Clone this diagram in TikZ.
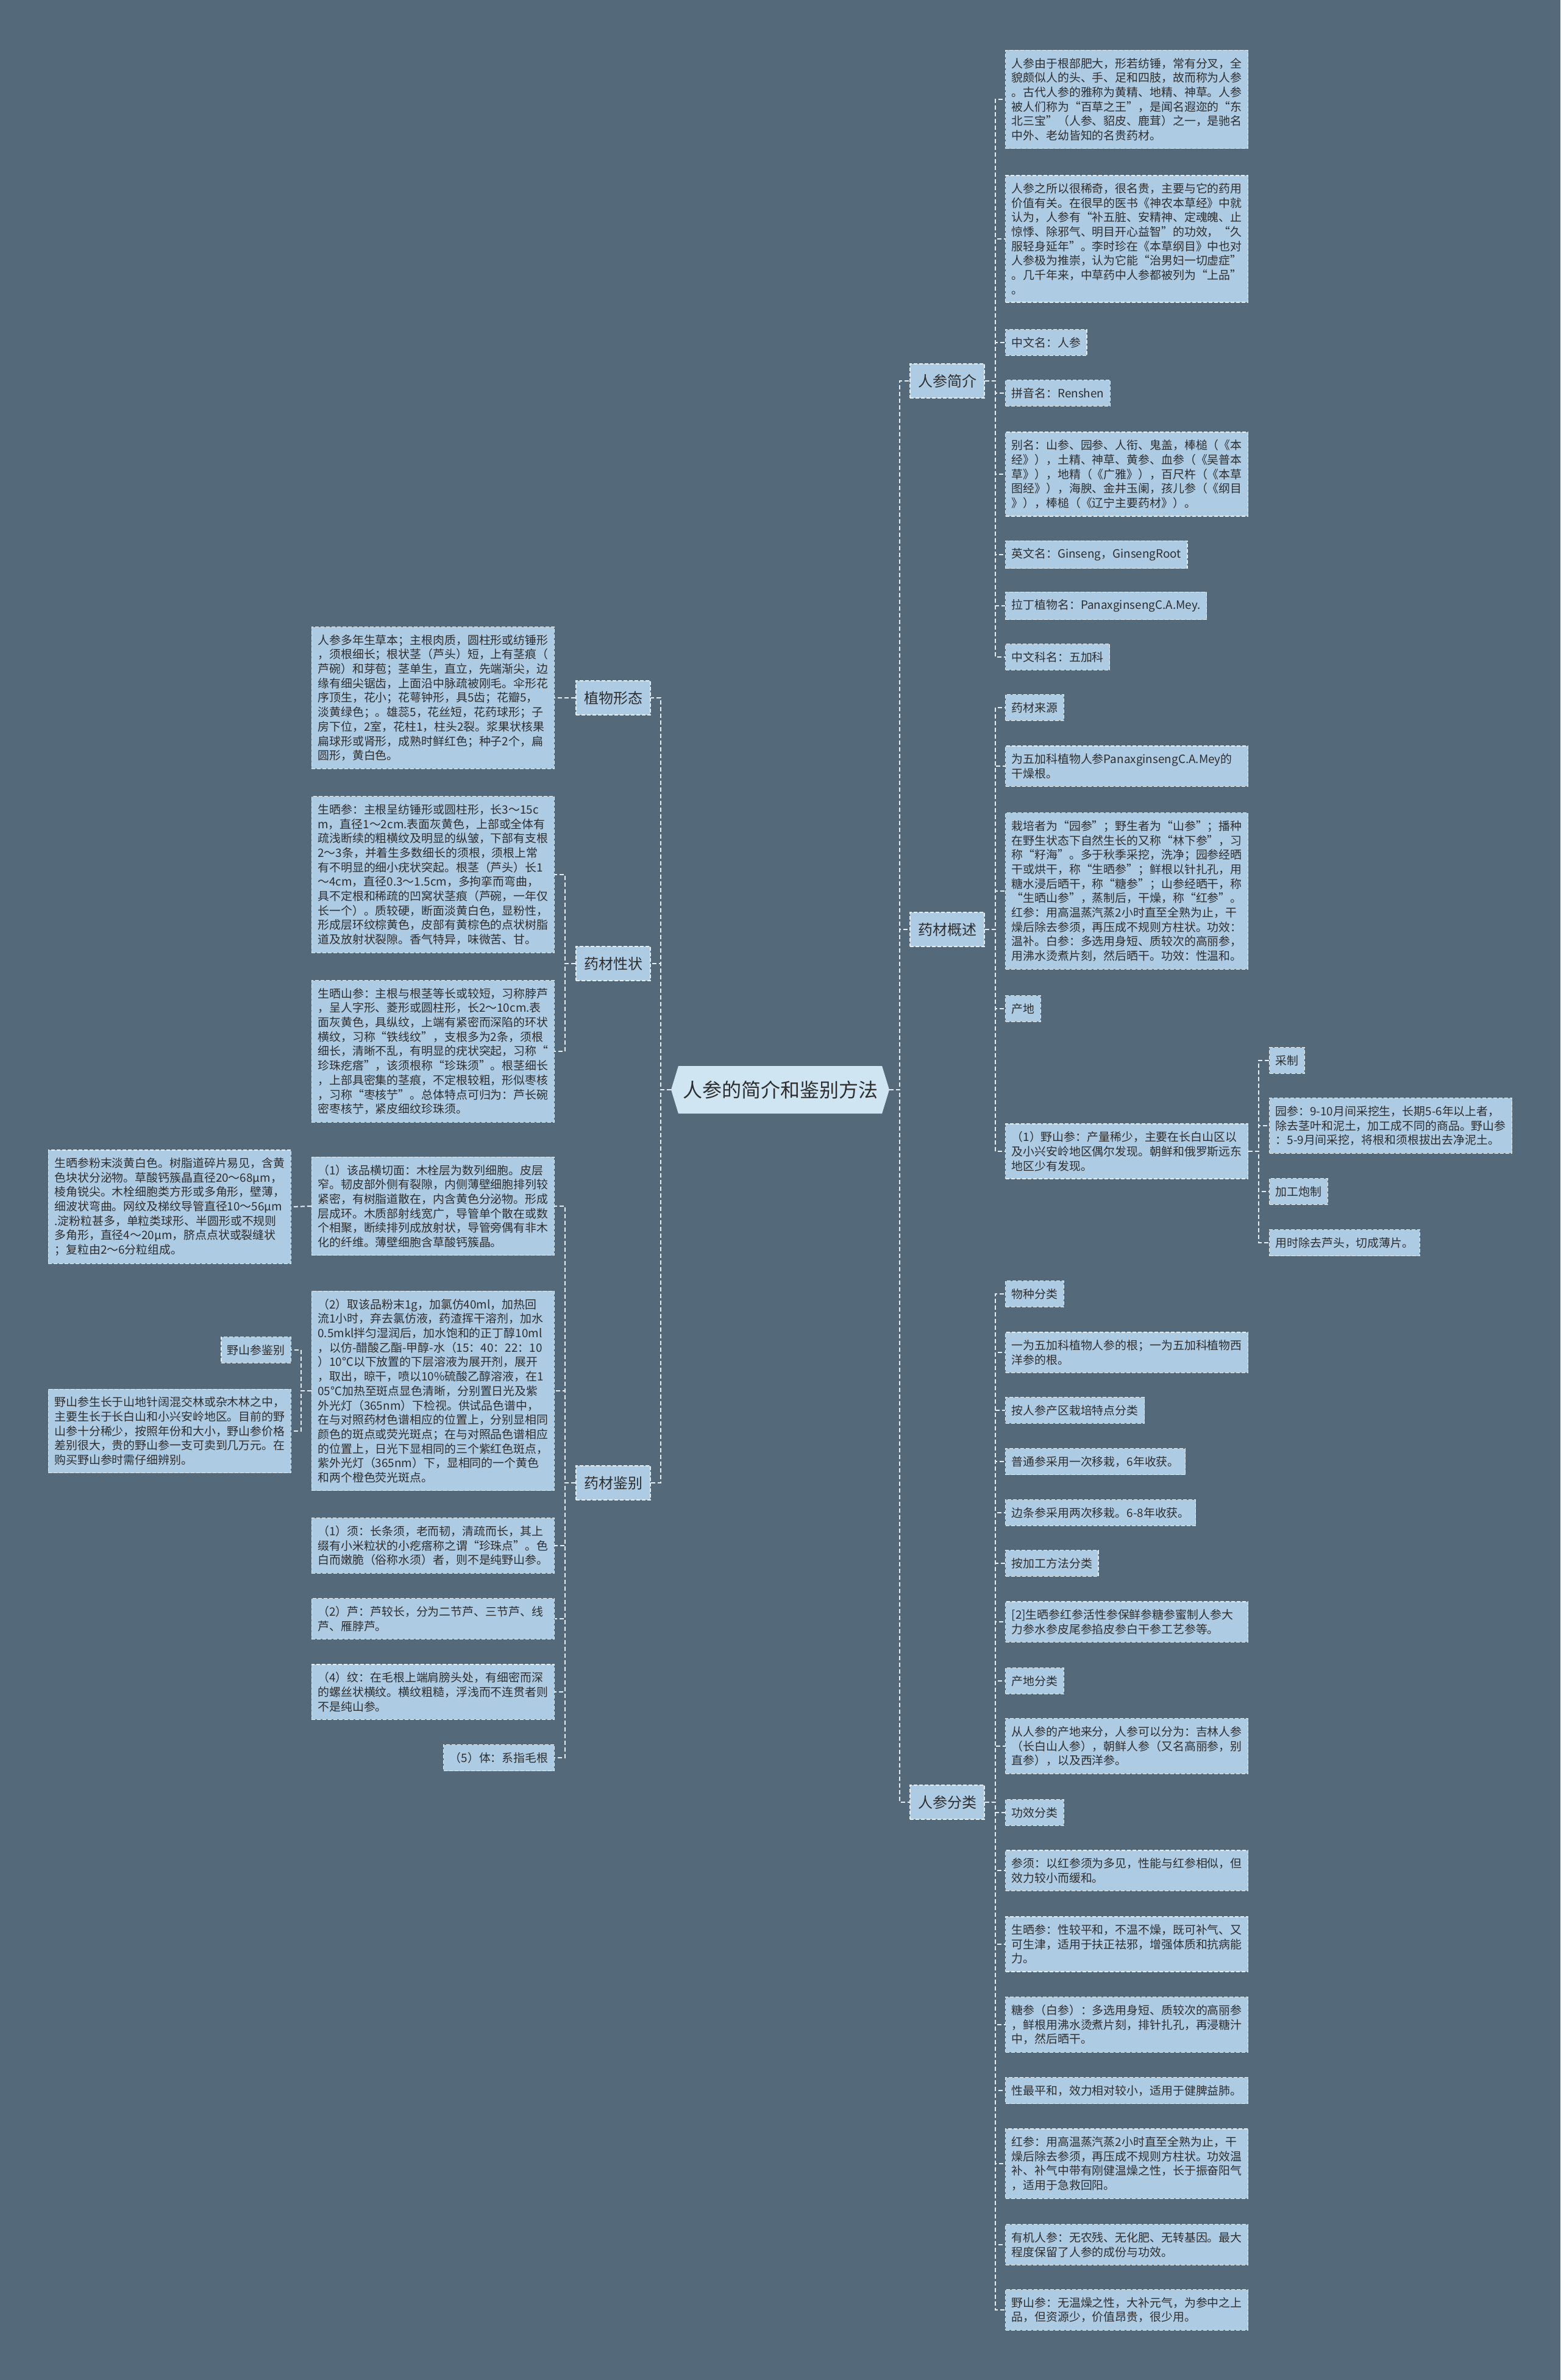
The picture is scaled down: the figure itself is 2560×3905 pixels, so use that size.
\documentclass[tikz,border=0pt]{standalone}
\usepackage{fontspec}
\setmainfont{Noto Sans CJK SC}
\usetikzlibrary{shapes.symbols}
\definecolor{bgblue}{HTML}{546A7B}
\definecolor{leafblue}{HTML}{ADCBE3}
\definecolor{rootblue}{HTML}{CFE5F2}
\definecolor{linewhite}{HTML}{E6EFF5}
\definecolor{inkgray}{HTML}{2E2E2E}

\begin{document}
\begin{tikzpicture}[
	x=1pt, y=-1pt,
	root/.style={
		signal,
		signal to=west and east,
		signal pointer angle=146,
		fill=rootblue,
		minimum height=78pt,
		minimum width=358pt,
		inner sep=0pt,
		text=inkgray,
		font=\fontsize{32}{38}\selectfont
	},
	main/.style={
		rectangle,
		draw=linewhite,
		line width=1.2pt,
		dash pattern=on 6pt off 3pt,
		fill=leafblue,
		minimum width=122pt,
		minimum height=56pt,
		inner sep=0pt,
		text=inkgray,
		font=\fontsize{24}{28}\selectfont
	},
	brief/.style={
		rectangle,
		draw=linewhite,
		line width=1.2pt,
		dash pattern=on 6pt off 3pt,
		fill=leafblue,
		align=left,
		inner xsep=10pt,
		inner ysep=12.5pt,
		text=inkgray,
		font=\fontsize{18.9}{23.7}\selectfont
	},
	detail/.style={brief, text width=378pt},
	edge/.style={draw=linewhite, line width=2pt, dash pattern=on 7pt off 4pt}
]
\useasboundingbox (0,0) rectangle (2560,3905);
\fill[bgblue] (0,0) rectangle (2560,3905);

\node[root] (ginseng) at (1280,1788) {人参的简介和鉴别方法};

\node[main] (intro) at (1554,625) {人参简介};
\node[main] (over) at (1554,1525) {药材概述};
\node[main] (kind) at (1554,2957) {人参分类};
\node[main] (form) at (1006,1145) {植物形态};
\node[main] (trait) at (1006,1581) {药材性状};
\node[main] (ident) at (1006,2433) {药材鉴别};

\node[detail, anchor=west] (introa) at (1649,163) {人参由于根部肥大，形若纺锤，常有分叉，全\\貌颇似人的头、手、足和四肢，故而称为人参\\。古代人参的雅称为黄精、地精、神草。人参\\被人们称为“百草之王”，是闻名遐迩的“东\\北三宝”（人参、貂皮、鹿茸）之一，是驰名\\中外、老幼皆知的名贵药材。};
\node[detail, anchor=west] (introb) at (1649,392) {人参之所以很稀奇，很名贵，主要与它的药用\\价值有关。在很早的医书《神农本草经》中就\\认为，人参有“补五脏、安精神、定魂魄、止\\惊悸、除邪气、明目开心益智”的功效，“久\\服轻身延年”。李时珍在《本草纲目》中也对\\人参极为推崇，认为它能“治男妇一切虚症”\\。几千年来，中草药中人参都被列为“上品”\\。};
\node[brief, anchor=west] (introc) at (1649,562) {中文名：人参};
\node[brief, anchor=west] (introd) at (1649,645) {拼音名：Renshen};
\node[detail, anchor=west] (introe) at (1649,778) {别名：山参、园参、人衔、鬼盖，棒槌（《本\\经》），土精、神草、黄参、血参（《吴普本\\草》），地精（《广雅》），百尺杵（《本草\\图经》），海腴、金井玉阑，孩儿参（《纲目\\》），棒槌（《辽宁主要药材》）。};
\node[brief, anchor=west] (introf) at (1649,910) {英文名：Ginseng，GinsengRoot};
\node[brief, anchor=west] (introg) at (1649,994) {拉丁植物名：PanaxginsengC.A.Mey.};
\node[brief, anchor=west] (introh) at (1649,1078) {中文科名：五加科};

\node[brief, anchor=west] (overa) at (1649,1161) {药材来源};
\node[detail, anchor=west] (overb) at (1649,1257) {为五加科植物人参PanaxginsengC.A.Mey的\\干燥根。};
\node[detail, anchor=west] (overc) at (1649,1462) {栽培者为“园参”；野生者为“山参”；播种\\在野生状态下自然生长的又称“林下参”，习\\称“籽海”。多于秋季采挖，洗净；园参经晒\\干或烘干，称“生晒参”；鲜根以针扎孔，用\\糖水浸后晒干，称“糖参”；山参经晒干，称\\“生晒山参”，蒸制后，干燥，称“红参”。\\红参：用高温蒸汽蒸2小时直至全熟为止，干\\燥后除去参须，再压成不规则方柱状。功效：\\温补。白参：多选用身短、质较次的高丽参，\\用沸水烫煮片刻，然后晒干。功效：性温和。};
\node[brief, anchor=west] (overd) at (1649,1655) {产地};
\node[detail, anchor=west] (overe) at (1649,1889) {（1）野山参：产量稀少，主要在长白山区以\\及小兴安岭地区偶尔发现。朝鲜和俄罗斯远东\\地区少有发现。};
\node[brief, anchor=west] (wilda) at (2082,1740) {采制};
\node[detail, anchor=west] (wildb) at (2082,1847) {园参：9-10月间采挖生，长期5-6年以上者，\\除去茎叶和泥土，加工成不同的商品。野山参\\：5-9月间采挖，将根和须根拔出去净泥土。};
\node[brief, anchor=west] (wildc) at (2082,1955) {加工炮制};
\node[brief, anchor=west] (wildd) at (2082,2039) {用时除去芦头，切成薄片。};

\node[brief, anchor=west] (kinda) at (1649,2123) {物种分类};
\node[detail, anchor=west] (kindb) at (1649,2219) {一为五加科植物人参的根；一为五加科植物西\\洋参的根。};
\node[brief, anchor=west] (kindc) at (1649,2314) {按人参产区栽培特点分类};
\node[brief, anchor=west] (kindd) at (1649,2398) {普通参采用一次移栽，6年收获。};
\node[brief, anchor=west] (kinde) at (1649,2482) {边条参采用两次移栽。6-8年收获。};
\node[brief, anchor=west] (kindf) at (1649,2565) {按加工方法分类};
\node[detail, anchor=west] (kindg) at (1649,2661) {[2]生晒参红参活性参保鲜参糖参蜜制人参大\\力参水参皮尾参掐皮参白干参工艺参等。};
\node[brief, anchor=west] (kindh) at (1649,2758) {产地分类};
\node[detail, anchor=west] (kindi) at (1649,2865) {从人参的产地来分，人参可以分为：吉林人参\\（长白山人参），朝鲜人参（又名高丽参，别\\直参），以及西洋参。};
\node[brief, anchor=west] (kindj) at (1649,2974) {功效分类};
\node[detail, anchor=west] (kindk) at (1649,3069) {参须：以红参须为多见，性能与红参相似，但\\效力较小而缓和。};
\node[detail, anchor=west] (kindl) at (1649,3190) {生晒参：性较平和，不温不燥，既可补气、又\\可生津，适用于扶正祛邪，增强体质和抗病能\\力。};
\node[detail, anchor=west] (kindm) at (1649,3322) {糖参（白参）：多选用身短、质较次的高丽参\\，鲜根用沸水烫煮片刻，排针扎孔，再浸糖汁\\中，然后晒干。};
\node[detail, anchor=west] (kindn) at (1649,3430) {性最平和，效力相对较小，适用于健脾益肺。};
\node[detail, anchor=west] (kindo) at (1649,3550) {红参：用高温蒸汽蒸2小时直至全熟为止，干\\燥后除去参须，再压成不规则方柱状。功效温\\补、补气中带有刚健温燥之性，长于振奋阳气\\，适用于急救回阳。};
\node[detail, anchor=west] (kindp) at (1649,3683) {有机人参：无农残、无化肥、无转基因。最大\\程度保留了人参的成份与功效。};
\node[detail, anchor=west] (kindq) at (1649,3790) {野山参：无温燥之性，大补元气，为参中之上\\品，但资源少，价值昂贵，很少用。};

\node[detail, anchor=east] (forma) at (910,1145) {人参多年生草本；主根肉质，圆柱形或纺锤形\\，须根细长；根状茎（芦头）短，上有茎痕（\\芦碗）和芽苞；茎单生，直立，先端渐尖，边\\缘有细尖锯齿，上面沿中脉疏被刚毛。伞形花\\序顶生，花小；花萼钟形，具5齿；花瓣5，\\淡黄绿色；。雄蕊5，花丝短，花药球形；子\\房下位，2室，花柱1，柱头2裂。浆果状核果\\扁球形或肾形，成熟时鲜红色；种子2个，扁\\圆形，黄白色。};

\node[detail, anchor=east] (traita) at (910,1435) {生晒参：主根呈纺锤形或圆柱形，长3～15c\\m，直径1～2cm.表面灰黄色，上部或全体有\\疏浅断续的粗横纹及明显的纵皱，下部有支根\\2～3条，并着生多数细长的须根，须根上常\\有不明显的细小疣状突起。根茎（芦头）长1\\～4cm，直径0.3～1.5cm，多拘挛而弯曲，\\具不定根和稀疏的凹窝状茎痕（芦碗，一年仅\\长一个）。质较硬，断面淡黄白色，显粉性，\\形成层环纹棕黄色，皮部有黄棕色的点状树脂\\道及放射状裂隙。香气特异，味微苦、甘。};
\node[detail, anchor=east] (traitb) at (910,1725) {生晒山参：主根与根茎等长或较短，习称脖芦\\，呈人字形、菱形或圆柱形，长2～10cm.表\\面灰黄色，具纵纹，上端有紧密而深陷的环状\\横纹，习称“铁线纹”，支根多为2条，须根\\细长，清晰不乱，有明显的疣状突起，习称“\\珍珠疙瘩”，该须根称“珍珠须”。根茎细长\\，上部具密集的茎痕，不定根较粗，形似枣核\\，习称“枣核艼”。总体特点可归为：芦长碗\\密枣核艼，紧皮细纹珍珠须。};

\node[detail, anchor=east] (identa) at (910,1979) {（1）该品横切面：木栓层为数列细胞。皮层\\窄。韧皮部外侧有裂隙，内侧薄壁细胞排列较\\紧密，有树脂道散在，内含黄色分泌物。形成\\层成环。木质部射线宽广，导管单个散在或数\\个相聚，断续排列成放射状，导管旁偶有非木\\化的纤维。薄壁细胞含草酸钙簇晶。};
\node[detail, anchor=east] (powder) at (478,1980) {生晒参粉末淡黄白色。树脂道碎片易见，含黄\\色块状分泌物。草酸钙簇晶直径20～68μm，\\棱角锐尖。木栓细胞类方形或多角形，壁薄，\\细波状弯曲。网纹及梯纹导管直径10～56μm\\.淀粉粒甚多，单粒类球形、半圆形或不规则\\多角形，直径4～20μm，脐点点状或裂缝状\\；复粒由2～6分粒组成。};
\node[detail, anchor=east] (identb) at (910,2282) {（2）取该品粉末1g，加氯仿40ml，加热回\\流1小时，弃去氯仿液，药渣挥干溶剂，加水\\0.5mkl拌匀湿润后，加水饱和的正丁醇10ml\\，以仿-醋酸乙酯-甲醇-水（15：40：22：10\\）10℃以下放置的下层溶液为展开剂，展开\\，取出，晾干，喷以10\%硫酸乙醇溶液，在1\\05℃加热至斑点显色清晰，分别置日光及紫\\外光灯（365nm）下检视。供试品色谱中，\\在与对照药材色谱相应的位置上，分别显相同\\颜色的斑点或荧光斑点；在与对照品色谱相应\\的位置上，日光下显相同的三个紫红色斑点，\\紫外光灯（365nm）下，显相同的一个黄色\\和两个橙色荧光斑点。};
\node[brief, anchor=east] (wildid) at (478,2215) {野山参鉴别};
\node[detail, anchor=east] (wildtext) at (478,2348) {野山参生长于山地针阔混交林或杂木林之中，\\主要生长于长白山和小兴安岭地区。目前的野\\山参十分稀少，按照年份和大小，野山参价格\\差别很大，贵的野山参一支可卖到几万元。在\\购买野山参时需仔细辨别。};
\node[detail, anchor=east] (identc) at (910,2536) {（1）须：长条须，老而韧，清疏而长，其上\\缀有小米粒状的小疙瘩称之谓“珍珠点”。色\\白而嫩脆（俗称水须）者，则不是纯野山参。};
\node[detail, anchor=east] (identd) at (910,2656) {（2）芦：芦较长，分为二节芦、三节芦、线\\芦、雁脖芦。};
\node[detail, anchor=east] (idente) at (910,2776) {（4）纹：在毛根上端肩膀头处，有细密而深\\的螺丝状横纹。横纹粗糙，浮浅而不连贯者则\\不是纯山参。};
\node[brief, anchor=east] (identf) at (910,2884) {（5）体：系指毛根};

\draw[edge] (ginseng.east) -- ++(17,0) |- (intro.west);
\draw[edge] (ginseng.east) -- ++(17,0) |- (over.west);
\draw[edge] (ginseng.east) -- ++(17,0) |- (kind.west);
\draw[edge] (ginseng.west) -- ++(-17,0) |- (form.east);
\draw[edge] (ginseng.west) -- ++(-17,0) |- (trait.east);
\draw[edge] (ginseng.west) -- ++(-17,0) |- (ident.east);
\draw[edge] (intro.east) -- ++(17,0) |- (introa.west);
\draw[edge] (intro.east) -- ++(17,0) |- (introb.west);
\draw[edge] (intro.east) -- ++(17,0) |- (introc.west);
\draw[edge] (intro.east) -- ++(17,0) |- (introd.west);
\draw[edge] (intro.east) -- ++(17,0) |- (introe.west);
\draw[edge] (intro.east) -- ++(17,0) |- (introf.west);
\draw[edge] (intro.east) -- ++(17,0) |- (introg.west);
\draw[edge] (intro.east) -- ++(17,0) |- (introh.west);
\draw[edge] (over.east) -- ++(17,0) |- (overa.west);
\draw[edge] (over.east) -- ++(17,0) |- (overb.west);
\draw[edge] (over.east) -- ++(17,0) |- (overc.west);
\draw[edge] (over.east) -- ++(17,0) |- (overd.west);
\draw[edge] (over.east) -- ++(17,0) |- (overe.west);
\draw[edge] (overe.east) -- ++(17,0) |- (wilda.west);
\draw[edge] (overe.east) -- ++(17,0) |- (wildb.west);
\draw[edge] (overe.east) -- ++(17,0) |- (wildc.west);
\draw[edge] (overe.east) -- ++(17,0) |- (wildd.west);
\draw[edge] (kind.east) -- ++(17,0) |- (kinda.west);
\draw[edge] (kind.east) -- ++(17,0) |- (kindb.west);
\draw[edge] (kind.east) -- ++(17,0) |- (kindc.west);
\draw[edge] (kind.east) -- ++(17,0) |- (kindd.west);
\draw[edge] (kind.east) -- ++(17,0) |- (kinde.west);
\draw[edge] (kind.east) -- ++(17,0) |- (kindf.west);
\draw[edge] (kind.east) -- ++(17,0) |- (kindg.west);
\draw[edge] (kind.east) -- ++(17,0) |- (kindh.west);
\draw[edge] (kind.east) -- ++(17,0) |- (kindi.west);
\draw[edge] (kind.east) -- ++(17,0) |- (kindj.west);
\draw[edge] (kind.east) -- ++(17,0) |- (kindk.west);
\draw[edge] (kind.east) -- ++(17,0) |- (kindl.west);
\draw[edge] (kind.east) -- ++(17,0) |- (kindm.west);
\draw[edge] (kind.east) -- ++(17,0) |- (kindn.west);
\draw[edge] (kind.east) -- ++(17,0) |- (kindo.west);
\draw[edge] (kind.east) -- ++(17,0) |- (kindp.west);
\draw[edge] (kind.east) -- ++(17,0) |- (kindq.west);
\draw[edge] (form.west) -- (forma.east);
\draw[edge] (trait.west) -- ++(-17,0) |- (traita.east);
\draw[edge] (trait.west) -- ++(-17,0) |- (traitb.east);
\draw[edge] (ident.west) -- ++(-17,0) |- (identa.east);
\draw[edge] (ident.west) -- ++(-17,0) |- (identb.east);
\draw[edge] (ident.west) -- ++(-17,0) |- (identc.east);
\draw[edge] (ident.west) -- ++(-17,0) |- (identd.east);
\draw[edge] (ident.west) -- ++(-17,0) |- (idente.east);
\draw[edge] (ident.west) -- ++(-17,0) |- (identf.east);
\draw[edge] (identa.west) -- (powder.east);
\draw[edge] (identb.west) -- ++(-17,0) |- (wildid.east);
\draw[edge] (identb.west) -- ++(-17,0) |- (wildtext.east);
\end{tikzpicture}
\end{document}
